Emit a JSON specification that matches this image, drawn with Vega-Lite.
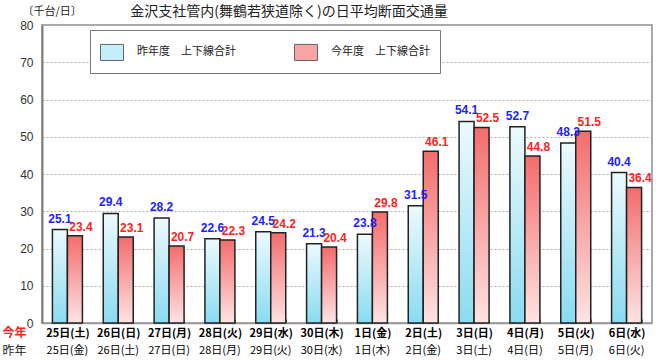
{
  "$schema": "https://vega.github.io/schema/vega-lite/v6.json",
  "autosize": "none",
  "width": 610,
  "height": 298,
  "padding": {"left": 42, "top": 25, "right": 8, "bottom": 37},
  "background": "white",
  "title": {
    "text": "金沢支社管内(舞鶴若狭道除く)の日平均断面交通量",
    "font": "Noto Sans CJK JP",
    "fontSize": 14,
    "fontWeight": "normal",
    "color": "#222222",
    "anchor": "middle",
    "dx": -58,
    "dy": 18,
    "offset": 4
  },
  "config": {
    "view": {"stroke": "#a8a8a8", "strokeWidth": 2},
    "font": "Noto Sans CJK JP"
  },
  "data": {
    "values": [
      {"day": "25日(土)", "series": "昨年", "value": 25.1},
      {"day": "25日(土)", "series": "今年", "value": 23.4},
      {"day": "26日(日)", "series": "昨年", "value": 29.4},
      {"day": "26日(日)", "series": "今年", "value": 23.1},
      {"day": "27日(月)", "series": "昨年", "value": 28.2},
      {"day": "27日(月)", "series": "今年", "value": 20.7},
      {"day": "28日(火)", "series": "昨年", "value": 22.6},
      {"day": "28日(火)", "series": "今年", "value": 22.3},
      {"day": "29日(水)", "series": "昨年", "value": 24.5},
      {"day": "29日(水)", "series": "今年", "value": 24.2},
      {"day": "30日(木)", "series": "昨年", "value": 21.3},
      {"day": "30日(木)", "series": "今年", "value": 20.4},
      {"day": "1日(金)", "series": "昨年", "value": 23.8},
      {"day": "1日(金)", "series": "今年", "value": 29.8},
      {"day": "2日(土)", "series": "昨年", "value": 31.5},
      {"day": "2日(土)", "series": "今年", "value": 46.1},
      {"day": "3日(日)", "series": "昨年", "value": 54.1},
      {"day": "3日(日)", "series": "今年", "value": 52.5},
      {"day": "4日(月)", "series": "昨年", "value": 52.7},
      {"day": "4日(月)", "series": "今年", "value": 44.8},
      {"day": "5日(火)", "series": "昨年", "value": 48.3},
      {"day": "5日(火)", "series": "今年", "value": 51.5},
      {"day": "6日(水)", "series": "昨年", "value": 40.4},
      {"day": "6日(水)", "series": "今年", "value": 36.4}
    ]
  },
  "resolve": {"axis": {"x": "independent"}},
  "encoding": {
    "xOffset": {"field": "series", "type": "nominal", "scale": {"domain": ["昨年", "今年"]}},
    "y": {
      "field": "value", "type": "quantitative",
      "scale": {"domain": [0, 80]},
      "axis": {
        "values": [0, 10, 20, 30, 40, 50, 60, 70, 80],
        "labelOverlap": false,
        "grid": true,
        "gridColor": "#b0b0b0",
        "gridDash": [2, 2],
        "ticks": false,
        "domainColor": "#808080",
        "domainWidth": 2,
        "labelFont": "Liberation Sans",
        "labelFontSize": 12,
        "labelColor": "#333333",
        "labelPadding": 9,
        "title": "〔千台/日〕",
        "titleFont": "Noto Sans CJK JP",
        "titleFontSize": 11,
        "titleFontWeight": "normal",
        "titleColor": "#222222",
        "titleAngle": 0,
        "titleAlign": "left",
        "titleBaseline": "middle",
        "titleX": -20,
        "titleY": -14
      }
    }
  },
  "layer": [
    {
      "transform": [{"filter": "datum.series == '昨年'"}],
      "mark": {
        "type": "bar",
        "stroke": "#222222",
        "strokeWidth": 1.5,
        "color": {
          "gradient": "linear", "x1": 0, "y1": 0, "x2": 0, "y2": 1,
          "stops": [{"offset": 0, "color": "#ecfafd"}, {"offset": 1, "color": "#8adbf1"}]
        }
      },
      "encoding": {
        "x": {
          "field": "day", "type": "nominal", "sort": null,
          "scale": {"paddingInner": 0.41, "paddingOuter": 0.205},
          "axis": {
            "orient": "bottom",
            "labelAngle": 0,
            "domainColor": "#999999",
            "domainWidth": 1.5,
            "ticks": true,
            "tickBand": "extent",
            "tickSize": -4,
            "tickColor": "#666666",
            "labelPadding": 8,
            "labelFont": "Noto Sans CJK JP",
            "labelFontSize": 11,
            "labelFontWeight": "bold",
            "encode": {"labels": {"update": {"fill": {"signal": "indexof(['25日(土)','2日(土)'], datum.value) >= 0 ? '#2222ff' : (indexof(['26日(日)','29日(水)','3日(日)','4日(月)','5日(火)','6日(水)'], datum.value) >= 0 ? '#ff2222' : '#222222')"}}}},
            "title": "今年",
            "titleFont": "Noto Sans CJK JP",
            "titleFontSize": 12,
            "titleFontWeight": "bold",
            "titleColor": "#ff2222",
            "titleAngle": 0,
            "titleAlign": "left",
            "titleBaseline": "middle",
            "titleX": -40,
            "titleY": 9
          }
        }
      }
    },
    {
      "transform": [{"filter": "datum.series == '今年'"}],
      "mark": {
        "type": "bar",
        "stroke": "#222222",
        "strokeWidth": 1.5,
        "color": {
          "gradient": "linear", "x1": 0, "y1": 0, "x2": 0, "y2": 1,
          "stops": [{"offset": 0, "color": "#f46c6c"}, {"offset": 1, "color": "#fde4e4"}]
        }
      },
      "encoding": {
        "x": {
          "field": "day", "type": "nominal", "sort": null,
          "axis": {
            "orient": "bottom",
            "labelAngle": 0,
            "domain": false,
            "ticks": false,
            "labelPadding": 21,
            "labelFont": "Noto Sans CJK JP",
            "labelFontSize": 11,
            "labelFontWeight": "normal",
            "labelExpr": "({'25日(土)':'25日(金)','26日(日)':'26日(土)','27日(月)':'27日(日)','28日(火)':'28日(月)','29日(水)':'29日(火)','30日(木)':'30日(水)','1日(金)':'1日(木)','2日(土)':'2日(金)','3日(日)':'3日(土)','4日(月)':'4日(日)','5日(火)':'5日(月)','6日(水)':'6日(火)'})[datum.value]",
            "encode": {"labels": {"update": {"fill": {"signal": "datum.value == '26日(日)' ? '#2222ff' : (indexof(['27日(月)','29日(水)','3日(日)','4日(月)','5日(火)','6日(水)'], datum.value) >= 0 ? '#ff2222' : '#222222')"}}}},
            "title": "昨年",
            "titleFont": "Noto Sans CJK JP",
            "titleFontSize": 12,
            "titleFontWeight": "normal",
            "titleColor": "#222222",
            "titleAngle": 0,
            "titleAlign": "left",
            "titleBaseline": "middle",
            "titleX": -40,
            "titleY": 27
          }
        }
      }
    },
    {
      "transform": [{"filter": "datum.series == '昨年'"}],
      "mark": {"type": "text", "font": "Liberation Sans", "fontSize": 12, "fontWeight": "bold", "color": "#2222ff", "baseline": "bottom", "dy": -4},
      "encoding": {
        "x": {"field": "day", "type": "nominal", "sort": null, "axis": null},
        "text": {"field": "value", "type": "quantitative", "format": ".1f"}
      }
    },
    {
      "transform": [{"filter": "datum.series == '今年'"}],
      "mark": {"type": "text", "font": "Liberation Sans", "fontSize": 12, "fontWeight": "bold", "color": "#ff2222", "baseline": "bottom", "dy": -2, "dx": 6},
      "encoding": {
        "x": {"field": "day", "type": "nominal", "sort": null, "axis": null},
        "text": {"field": "value", "type": "quantitative", "format": ".1f"}
      }
    },
    {
      "mark": {"type": "bar", "opacity": 0},
      "encoding": {
        "x": {"field": "day", "type": "nominal", "sort": null, "axis": null},
        "color": {
          "field": "series", "type": "nominal",
          "scale": {"domain": ["昨年", "今年"], "range": ["#c4eefa", "#f8a4a4"]},
          "legend": {
            "orient": "none",
            "legendX": 48,
            "legendY": 5,
            "direction": "horizontal",
            "title": null,
            "symbolType": "M-1,-0.7H1V0.7H-1Z",
            "symbolSize": 529,
            "symbolOpacity": 1,
            "symbolStrokeColor": "#666666",
            "symbolStrokeWidth": 1,
            "labelFont": "Noto Sans CJK JP",
            "labelFontSize": 11,
            "labelColor": "#222222",
            "labelOffset": 13,
            "columnPadding": 56,
            "padding": 10,
            "strokeColor": "#777777",
            "fillColor": "white",
            "labelExpr": "datum.value == '昨年' ? '昨年度　上下線合計' : '今年度　上下線合計'"
          }
        }
      }
    }
  ]
}
